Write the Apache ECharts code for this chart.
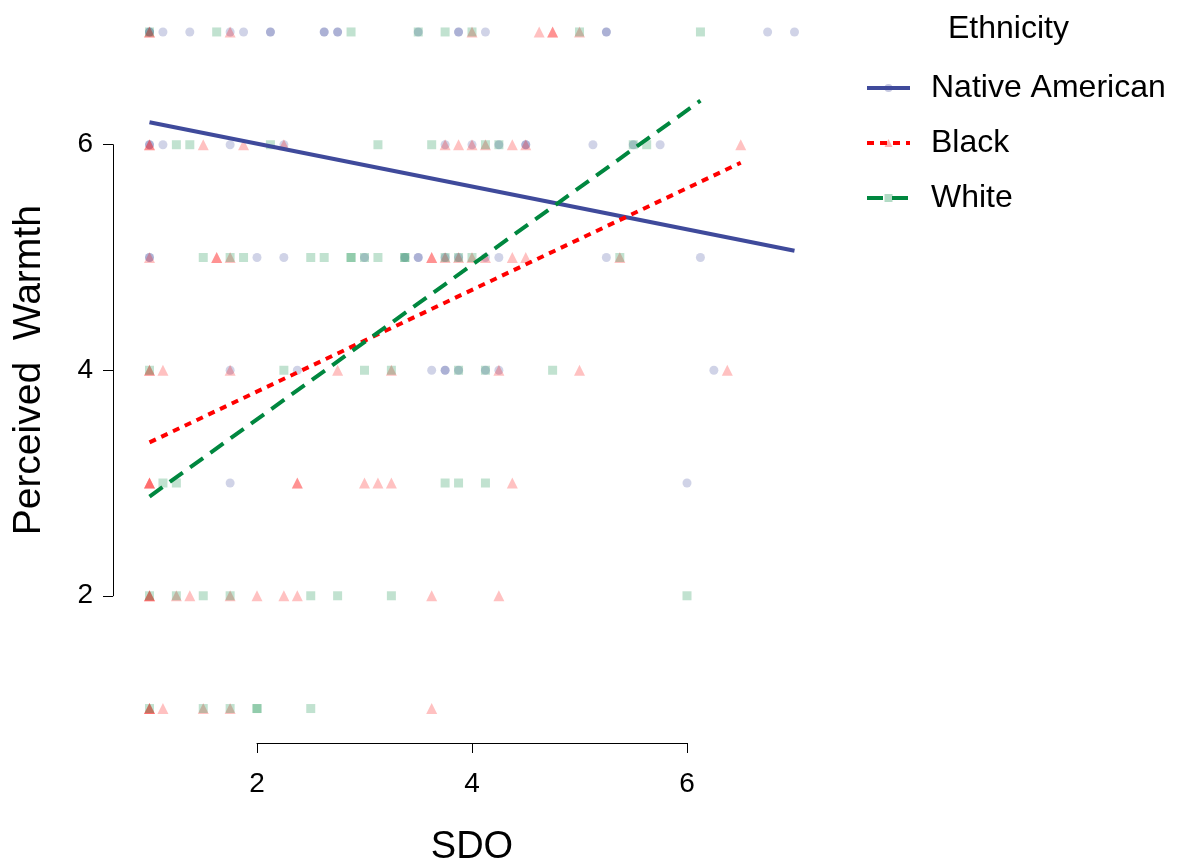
<!DOCTYPE html>
<html>
<head>
<meta charset="utf-8">
<script src="https://cdn.jsdelivr.net/npm/echarts@6/dist/echarts.min.js"></script>
<style>
html, body { margin: 0; padding: 0; background: #fff; }
#chart { width: 1180px; height: 867px; }
</style>
</head>
<body>
<div id="chart"></div>
<script>
// 分组名称
var groups = ["Native American", "Black", "White"];

// 散点数据 [SDO, Perceived Warmth]
var nativePts = [
	[1,7],[1,7],[1.125,7],[1.375,7],[1.75,7],[1.875,7],[2.125,7],[2.125,7],[2.625,7],[2.625,7],
	[2.75,7],[2.75,7],[3.5,7],[3.875,7],[3.875,7],[4.125,7],[5.25,7],[5.25,7],[6.75,7],[7,7],
	[1,6],[1,6],[1.125,6],[1.75,6],[2.25,6],[3.75,6],[4,6],[4.25,6],[4.5,6],[4.5,6],
	[5.125,6],[5.5,6],[5.75,6],
	[1,5],[1,5],[2,5],[2.25,5],[3,5],[3.375,5],[3.5,5],[3.5,5],[3.75,5],[3.875,5],
	[4.125,5],[4.25,5],[5.25,5],[6.125,5],
	[1.75,4],[2.375,4],[3.625,4],[3.75,4],[3.75,4],[3.875,4],[4.125,4],[4.25,4],[6.25,4],
	[1.75,3],[6,3]
];
var blackPts = [
	[1,7],[1,7],[1.75,7],[4,7],[4.625,7],[4.75,7],[4.75,7],[5,7],
	[1,6],[1,6],[1.5,6],[1.875,6],[2.25,6],[3.75,6],[3.875,6],[4,6],[4.125,6],[4.375,6],
	[4.5,6],[6.5,6],
	[1,5],[1.625,5],[1.625,5],[1.75,5],[3.625,5],[3.625,5],[3.75,5],[3.875,5],[4,5],
	[4.125,5],[4.375,5],[4.5,5],[5.375,5],
	[1,4],[1,4],[1.125,4],[1.75,4],[2.75,4],[3.25,4],[4.25,4],[5,4],[6.375,4],
	[1,3],[1,3],[1,3],[2.375,3],[2.375,3],[3,3],[3.125,3],[3.25,3],[4.375,3],
	[1,2],[1,2],[1,2],[1.25,2],[1.375,2],[1.75,2],[2,2],[2.25,2],[2.375,2],[3.625,2],[4.25,2],
	[1,1],[1,1],[1,1],[1.125,1],[1.5,1],[1.75,1],[3.625,1]
];
var whitePts = [
	[1,7],[1.625,7],[2.875,7],[3.5,7],[3.75,7],[4,7],[5,7],[6.125,7],
	[1.25,6],[1.375,6],[2.125,6],[3.125,6],[3.625,6],[4.125,6],[4.25,6],[5.5,6],[5.625,6],
	[1.5,5],[1.75,5],[1.875,5],[2.5,5],[2.625,5],[2.875,5],[2.875,5],[3,5],[3.125,5],
	[3.375,5],[3.375,5],[3.75,5],[3.875,5],[4,5],[5.375,5],
	[1,4],[2.25,4],[3,4],[3.25,4],[3.875,4],[4.125,4],[4.75,4],
	[1.125,3],[1.25,3],[3.75,3],[3.875,3],[4.125,3],
	[1,2],[1.25,2],[1.5,2],[1.75,2],[2.5,2],[2.75,2],[3.25,2],[6,2],
	[1,1],[1.5,1],[1.75,1],[2,1],[2,1],[2.5,1]
];

// 回归线端点
var nativeFit = [[1, 6.2], [7, 5.06]];
var blackFit = [[1, 3.36], [6.5, 5.84]];
var whiteFit = [[1, 2.88], [6.125, 6.39]];

// 坐标轴刻度
var xTicks = [2, 4, 6];
var yTicks = [2, 4, 6];

// 绘图区范围 (R 风格 4% 扩展)
var X_MIN = 0.76, X_MAX = 7.24, Y_MIN = 0.76, Y_MAX = 7.24;
var PLOT = { left: 123.7, top: 4.9, width: 696.6, height: 730.7 };
function px(v) { return PLOT.left + (v - X_MIN) / (X_MAX - X_MIN) * PLOT.width; }
function py(v) { return PLOT.top + (Y_MAX - v) / (Y_MAX - Y_MIN) * PLOT.height; }

var FONT = "Liberation Sans, Arial, sans-serif";
var COLORS = ["#3f4a9b", "#ff0000", "#00873f"];
var FADED = ["rgba(63,74,155,0.3)", "rgba(255,0,0,0.3)", "rgba(0,135,63,0.3)"];
var SYMBOLS = ["circle", "triangle", "rect"];
var SIZES = [9, 11, 9];
var DASH = ["solid", [7, 6], [16, 9]];
var pts = [nativePts, blackPts, whitePts];
var fits = [nativeFit, blackFit, whiteFit];

var xLo = xTicks[0], xHi = xTicks[xTicks.length - 1];
var yLo = yTicks[0], yHi = yTicks[yTicks.length - 1];

var series = [];
groups.forEach(function (g, i) {
	series.push({
		name: g,
		type: "line",
		xAxisIndex: 0, yAxisIndex: 0,
		data: fits[i],
		symbol: SYMBOLS[i],
		symbolSize: SIZES[i],
		showSymbol: false,
		z: 3,
		lineStyle: { color: COLORS[i], width: 4, type: DASH[i], cap: "butt" },
		itemStyle: { color: FADED[i] },
		silent: true
	});
});
groups.forEach(function (g, i) {
	series.push({
		name: g,
		type: "scatter",
		xAxisIndex: 0, yAxisIndex: 0,
		data: pts[i],
		symbol: SYMBOLS[i],
		symbolSize: SIZES[i],
		itemStyle: { color: FADED[i] },
		z: 2,
		silent: true
	});
});

var option = {
	animation: false,
	backgroundColor: "#fff",
	textStyle: { fontFamily: FONT },
	title: {
		text: "Ethnicity",
		left: 943, top: 8,
		textStyle: { fontFamily: FONT, fontSize: 32, fontWeight: "normal", color: "#000" }
	},
	legend: {
		data: groups,
		orient: "vertical",
		left: 860, top: 67,
		itemWidth: 43, itemHeight: 10,
		itemGap: 23,
		lineStyle: { width: 4 },
		textStyle: { fontFamily: FONT, fontSize: 32, lineHeight: 32, color: "#000", padding: [0, 0, 0, 16] },
		selectedMode: false
	},
	grid: [
		{ left: PLOT.left, top: PLOT.top, width: PLOT.width, height: PLOT.height, outerBoundsMode: "none" },
		{ left: px(xLo), width: px(xHi) - px(xLo), top: 733, height: 10, outerBoundsMode: "none" },
		{ left: 113, width: 10, top: py(yHi), height: py(yLo) - py(yHi), outerBoundsMode: "none" }
	],
	xAxis: [
		{ gridIndex: 0, type: "value", min: X_MIN, max: X_MAX, show: false },
		{
			gridIndex: 1, type: "value", min: xLo, max: xHi, interval: 2,
			position: "bottom",
			name: "SDO", nameLocation: "middle", nameGap: 86,
			nameTextStyle: { fontFamily: FONT, fontSize: 38, color: "#000" },
			axisLine: { show: true, lineStyle: { color: "#000", width: 1 } },
			axisTick: { show: true, length: 10, lineStyle: { color: "#000" } },
			axisLabel: { fontFamily: FONT, fontSize: 28, color: "#000", margin: 27 },
			splitLine: { show: false }
		},
		{ gridIndex: 2, type: "value", show: false }
	],
	yAxis: [
		{ gridIndex: 0, type: "value", min: Y_MIN, max: Y_MAX, show: false },
		{ gridIndex: 1, type: "value", show: false },
		{
			gridIndex: 2, type: "value", min: yLo, max: yHi, interval: 2,
			position: "left",
			name: "Perceived  Warmth", nameLocation: "middle", nameGap: 64, nameRotate: 90,
			nameTextStyle: { fontFamily: FONT, fontSize: 39, color: "#000" },
			axisLine: { show: true, lineStyle: { color: "#000", width: 1 } },
			axisTick: { show: true, length: 10, inside: false, lineStyle: { color: "#000" } },
			axisLabel: { fontFamily: FONT, fontSize: 28, color: "#000", margin: 20 },
			splitLine: { show: false }
		}
	],
	series: series
};

var chart = echarts.init(document.getElementById("chart"));
chart.setOption(option);
window.addEventListener("resize", chart.resize);
</script>
</body>
</html>
